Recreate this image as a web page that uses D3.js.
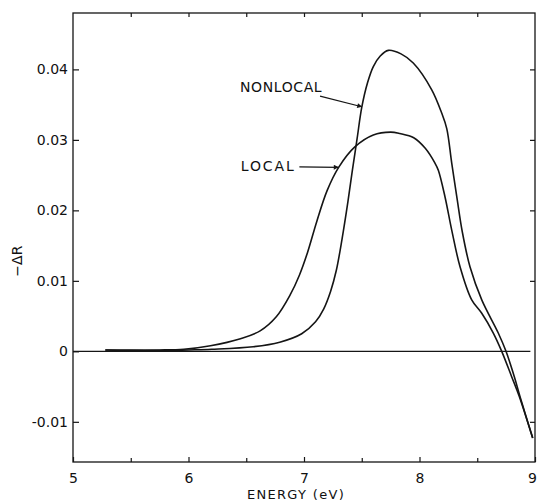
<!DOCTYPE html>
<html>
<head>
<meta charset="utf-8">
<script src="https://cdn.jsdelivr.net/npm/d3@7"></script>
<style>
  html, body { margin: 0; padding: 0; background: #fff; }
  svg { display: block; }
  text { font-family: "DejaVu Sans", "Liberation Sans", sans-serif; fill: #111; }
</style>
</head>
<body>
<svg id="chart" width="537" height="502"></svg>
<script>
// Reflectance change -ΔR versus photon energy, local and nonlocal calculations
const localEnergy = [5.28, 5.5, 5.75, 5.96, 6.19, 6.45, 6.62, 6.76, 6.88, 6.96, 7.03, 7.11, 7.20, 7.30, 7.44, 7.60, 7.75, 7.83, 7.95, 8.05, 8.134, 8.163, 8.221, 8.279, 8.351, 8.452, 8.539, 8.639, 8.712, 8.798, 8.864, 8.98];
const localDR     = [0.0002, 0.0002, 0.0002, 0.0003, 0.0008, 0.0018, 0.0029, 0.0049, 0.0080, 0.0108, 0.0140, 0.0184, 0.0228, 0.0261, 0.0290, 0.0307, 0.0311, 0.0309, 0.0303, 0.0288, 0.0267, 0.0257, 0.0219, 0.0172, 0.0120, 0.0073, 0.0054, 0.0026, 0.0, -0.0036, -0.0064, -0.0123];

const nonlocalEnergy = [5.28, 5.5, 5.75, 6.0, 6.2, 6.56, 6.79, 6.98, 7.10, 7.17, 7.23, 7.28, 7.33, 7.38, 7.42, 7.46, 7.50, 7.55, 7.60, 7.66, 7.73, 7.84, 7.946, 8.106, 8.192, 8.236, 8.279, 8.325, 8.37, 8.437, 8.539, 8.682, 8.749, 8.821, 8.870, 8.98];
const nonlocalDR     = [0.0002, 0.0001, 0.0001, 0.0002, 0.0003, 0.00065, 0.0013, 0.0025, 0.0042, 0.0060, 0.0085, 0.0115, 0.0160, 0.0212, 0.0258, 0.0302, 0.0346, 0.0381, 0.0404, 0.0419, 0.0427, 0.0422, 0.0409, 0.0371, 0.0338, 0.0316, 0.0267, 0.0217, 0.0170, 0.0120, 0.0073, 0.0026, 0.0, -0.0036, -0.0064, -0.0123];

const xMajorTicks = [5, 6, 7, 8, 9];
const xMinorTicks = [5.5, 6.5, 7.5, 8.5];
const xTopTicks   = [5.5, 6, 6.5, 7, 7.5, 8, 8.5];
const yTicks      = [0.04, 0.03, 0.02, 0.01, 0, -0.01];
const yTickLabels = ["0.04", "0.03", "0.02", "0.01", "0", "-0.01"];
const yRightTicks = [0.04, 0.03, 0.02, 0.01, -0.01];

const xTitle = "ENERGY (eV)";
const yTitle = "\u2212\u0394R";

// Curve annotations (data coordinates)
const labelNames   = ["NONLOCAL", "LOCAL"];
const labelAnchorE = [6.446, 6.452];
const labelAnchorV = [0.0368, 0.0256];
const arrowFromE   = [7.139, 6.96];
const arrowFromV   = [0.0362, 0.02618];
const arrowToE     = [7.50, 7.297];
const arrowToV     = [0.0347, 0.0261];

const svg = d3.select("#chart");

const x = d3.scaleLinear().domain([5, 9]).range([73, 535]);
const y = d3.scaleLinear().domain([-0.0157, 0.048]).range([462, 13]);

const ink = "#151515";

// Arrowhead marker
svg.append("defs").append("marker")
  .attr("id", "arrowhead")
  .attr("viewBox", "0 0 10 10")
  .attr("refX", 9).attr("refY", 5)
  .attr("markerWidth", 7).attr("markerHeight", 5)
  .attr("markerUnits", "userSpaceOnUse")
  .attr("orient", "auto")
  .append("path")
  .attr("d", "M0,0 L10,5 L0,10 Z")
  .attr("fill", ink);

// Bottom axis: labelled major ticks plus minor ticks, pointing inward
const bottomAxis = svg.append("g")
  .attr("transform", `translate(0,${y.range()[0]})`)
  .call(d3.axisBottom(x).tickValues(xMajorTicks).tickFormat(d3.format("d"))
        .tickSizeInner(-5).tickSizeOuter(0).tickPadding(11));
bottomAxis.select(".domain").remove();
bottomAxis.selectAll("text").style("font-size", "14px")
  .attr("dx", d => d === 9 ? "-3px" : null);

svg.append("g")
  .attr("transform", `translate(0,${y.range()[0]})`)
  .call(d3.axisBottom(x).tickValues(xMinorTicks).tickFormat("").tickSizeInner(-4).tickSizeOuter(0))
  .select(".domain").remove();

// Top axis ticks
svg.append("g")
  .attr("transform", `translate(0,${y.range()[1]})`)
  .call(d3.axisTop(x).tickValues(xTopTicks).tickFormat("").tickSizeInner(-4).tickSizeOuter(0))
  .select(".domain").remove();

// Left axis
const leftAxis = svg.append("g")
  .attr("transform", `translate(${x.range()[0]},0)`)
  .call(d3.axisLeft(y).tickValues(yTicks)
        .tickFormat((d, i) => yTickLabels[i])
        .tickSizeInner(-6).tickSizeOuter(0).tickPadding(5));
leftAxis.select(".domain").remove();
leftAxis.selectAll("text").style("font-size", "14px");

// Right axis ticks
svg.append("g")
  .attr("transform", `translate(${x.range()[1]},0)`)
  .call(d3.axisRight(y).tickValues(yRightTicks).tickFormat("").tickSizeInner(-5).tickSizeOuter(0))
  .select(".domain").remove();

svg.selectAll(".tick line").attr("stroke", ink).attr("stroke-width", 1.2);

// Plot frame
svg.append("rect")
  .attr("x", x.range()[0]).attr("y", y.range()[1])
  .attr("width", x.range()[1] - x.range()[0])
  .attr("height", y.range()[0] - y.range()[1])
  .attr("fill", "none").attr("stroke", ink).attr("stroke-width", 1.3);

// Zero reference line
svg.append("line")
  .attr("x1", x(5)).attr("x2", x(8.96))
  .attr("y1", y(0)).attr("y2", y(0))
  .attr("stroke", ink).attr("stroke-width", 1.1);

// Curves
const line = d3.line()
  .x(d => x(d[0])).y(d => y(d[1]))
  .curve(d3.curveCatmullRom.alpha(0.5));

const localPts = localEnergy.map((e, i) => [e, localDR[i]]);
const nonlocalPts = nonlocalEnergy.map((e, i) => [e, nonlocalDR[i]]);

[localPts, nonlocalPts].forEach(pts => {
  svg.append("path")
    .datum(pts)
    .attr("d", line)
    .attr("fill", "none")
    .attr("stroke", ink)
    .attr("stroke-width", 1.6)
    .attr("stroke-linejoin", "round");
});

// Labels and arrows
labelNames.forEach((name, i) => {
  svg.append("text")
    .attr("x", x(labelAnchorE[i]))
    .attr("y", y(labelAnchorV[i]))
    .style("font-size", "14px")
    .style("letter-spacing", i === 0 ? "0.6px" : "1.9px")
    .text(name);
  svg.append("line")
    .attr("x1", x(arrowFromE[i])).attr("y1", y(arrowFromV[i]))
    .attr("x2", x(arrowToE[i])).attr("y2", y(arrowToV[i]))
    .attr("stroke", ink).attr("stroke-width", 1.2)
    .attr("marker-end", "url(#arrowhead)");
});

// Axis titles
svg.append("text")
  .attr("x", (x.range()[0] + x.range()[1]) / 2 - 8)
  .attr("y", 499)
  .attr("text-anchor", "middle")
  .style("font-size", "13px")
  .style("letter-spacing", "1.3px")
  .text(xTitle);

svg.append("text")
  .attr("transform", `translate(22,${y(0.0128)}) rotate(-90)`)
  .attr("text-anchor", "middle")
  .style("font-size", "14px")
  .text(yTitle);
</script>
</body>
</html>
